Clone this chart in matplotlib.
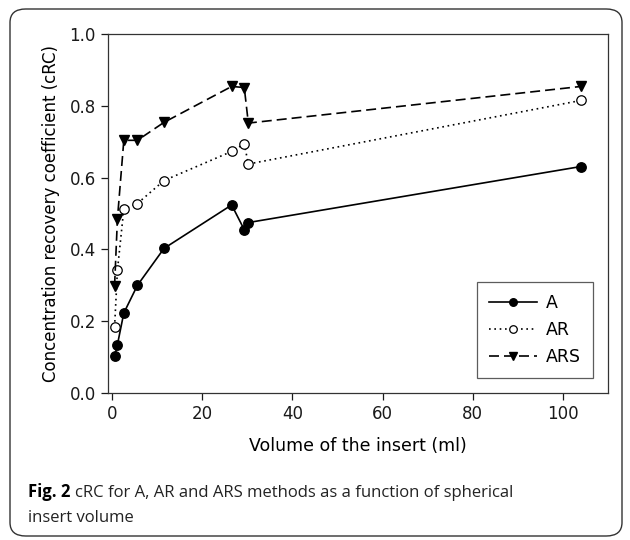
import matplotlib.pyplot as plt
from matplotlib.patches import FancyBboxPatch

# =====================================
# DATA
# =====================================

volume = [0.52, 1.15, 2.57, 5.58, 11.49, 26.5, 29.3, 30.2, 104.0]

crc_a = [0.102, 0.135, 0.223, 0.300, 0.403, 0.524, 0.455, 0.475, 0.631]
crc_ar = [0.184, 0.342, 0.513, 0.528, 0.592, 0.673, 0.694, 0.638, 0.815]
crc_ars = [0.299, 0.485, 0.704, 0.704, 0.754, 0.854, 0.851, 0.752, 0.854]

x_ticks = [0, 20, 40, 60, 80, 100]
y_ticks = [0.0, 0.2, 0.4, 0.6, 0.8, 1.0]


# =====================================
# FIGURE
# =====================================

plt.rcParams["font.family"] = "DejaVu Sans"

fig = plt.figure(figsize=(6.3, 5.4), dpi=100)
ax = fig.add_axes([0.171, 0.272, 0.794, 0.665])

ax.plot(volume, crc_a, color="black", linestyle="-", linewidth=1.2,
        marker="o", markersize=6.8, markerfacecolor="black",
        markeredgecolor="black", label="A")
ax.plot(volume, crc_ar, color="black", linestyle=(0, (1, 2.2)), linewidth=1.2,
        marker="o", markersize=6.8, markerfacecolor="white",
        markeredgecolor="black", markeredgewidth=0.9, label="AR")
ax.plot(volume, crc_ars, color="black", linestyle=(0, (6, 3)), linewidth=1.2,
        marker="v", markersize=7, markerfacecolor="black",
        markeredgecolor="black", label="ARS")

ax.set_xlim(-1, 110)
ax.set_ylim(0, 1.0)
ax.set_xticks(x_ticks)
ax.set_yticks(y_ticks)
ax.set_yticklabels([f"{v:.1f}" for v in y_ticks])
ax.tick_params(direction="out", length=5, width=0.9, labelsize=12,
               colors="#1a1a1a")
for s in ax.spines.values():
    s.set_linewidth(0.9)
    s.set_color("#333333")

ax.set_xlabel("Volume of the insert (ml)", fontsize=12.5, labelpad=10)
ax.set_ylabel("Concentration recovery coefficient (cRC)", fontsize=12,
              labelpad=7)

leg = ax.legend(loc="lower right", fontsize=12.5, frameon=True,
                fancybox=False, edgecolor="#333333", handlelength=2.8,
                borderpad=0.7, labelspacing=0.5, handletextpad=0.5,
                markerscale=0.8, bbox_to_anchor=(0.988, 0.018))
leg.get_frame().set_linewidth(0.9)

# caption
cap_size = 12
cap_y = 1 - 497 / 540
fig_txt = fig.text(28 / 630, cap_y, "Fig. 2", fontsize=cap_size,
                   family="Open Sans", fontweight="bold", va="baseline")
renderer = fig.canvas.get_renderer()
bb = fig_txt.get_window_extent(renderer)
x_next = (bb.x1 + 5) / fig.bbox.width
fig.text(x_next, cap_y,
         "cRC for A, AR and ARS methods as a function of spherical",
         fontsize=cap_size, family="Open Sans", va="baseline",
         color="#222222")
fig.text(28 / 630, 1 - 522 / 540, "insert volume", fontsize=cap_size,
         family="Open Sans", va="baseline", color="#222222")

# rounded frame around the figure
frame = FancyBboxPatch((10 / 630, 4 / 540), 612 / 630, 527 / 540,
                       boxstyle="round,pad=0,rounding_size=0.025",
                       transform=fig.transFigure, fill=False,
                       edgecolor="#333333", linewidth=1.0)
fig.patches.append(frame)

fig.savefig("out.png", dpi=100)
plt.close(fig)
